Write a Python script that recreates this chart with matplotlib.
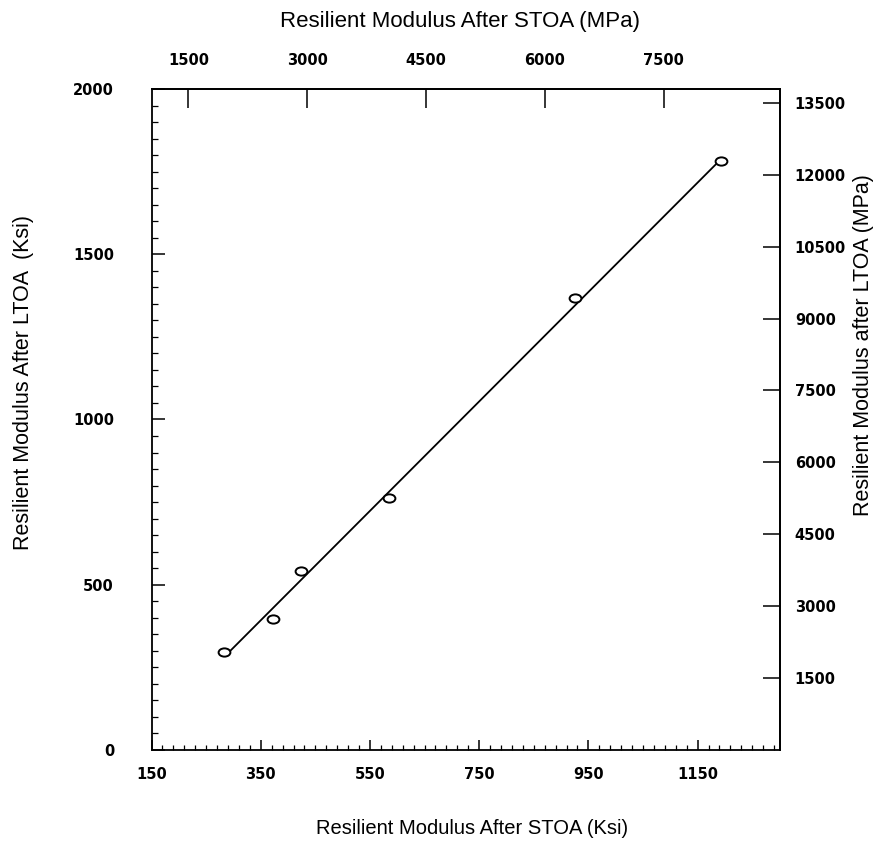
import matplotlib.pyplot as plt
import numpy as np
from matplotlib.path import Path
from matplotlib.transforms import Affine2D
from matplotlib.ticker import MultipleLocator, FixedLocator

KSI_TO_MPA = 6.895

# resilient modulus, ksi
stoa_ksi = [282, 373, 423, 585, 925, 1192]
ltoa_ksi = [297, 396, 542, 762, 1367, 1782]

# fitted line end points, ksi
fit_stoa = [290, 1187]
fit_ltoa = [293, 1778]

ksi_x_ticks = [150, 350, 550, 750, 950, 1150]
ksi_y_ticks = [0, 500, 1000, 1500, 2000]
mpa_x_ticks = [1500, 3000, 4500, 6000, 7500]
mpa_y_ticks = [1500, 3000, 4500, 6000, 7500, 9000, 10500, 12000, 13500]

plt.rcParams['font.family'] = 'DejaVu Sans'
plt.rcParams['font.weight'] = 'bold'

fig = plt.figure(figsize=(8.81, 8.42), dpi=100)
ax = fig.add_axes([0.172, 0.1093, 0.7128, 0.785])

ellipse = Path.unit_circle().transformed(Affine2D().scale(1.0, 0.7))

ax.plot(fit_stoa, fit_ltoa, color='black', lw=1.3)
ax.plot(stoa_ksi, ltoa_ksi, linestyle='none', marker=ellipse, ms=8.5,
        mfc='white', mec='black', mew=1.4)

ax.set_xlim(150, 1300)
ax.set_ylim(0, 2000)
for sp in ax.spines.values():
    sp.set_linewidth(1.3)

ax.xaxis.set_major_locator(FixedLocator(ksi_x_ticks))
ax.xaxis.set_minor_locator(FixedLocator(np.arange(150, 1301, 20)))
ax.yaxis.set_major_locator(FixedLocator(ksi_y_ticks))
ax.yaxis.set_minor_locator(MultipleLocator(50))

ax.tick_params(axis='x', which='major', direction='in', length=7, width=1.1, pad=12, labelsize=10.5)
ax.tick_params(axis='x', which='minor', direction='in', length=3.5, width=0.9)
ax.tick_params(axis='y', which='major', direction='in', length=9, width=1.1, pad=27, labelsize=10.5)
ax.tick_params(axis='y', which='minor', direction='in', length=4, width=0.9)

top = ax.secondary_xaxis('top', functions=(lambda k: k * KSI_TO_MPA, lambda m: m / KSI_TO_MPA))
top.set_xticks(mpa_x_ticks)
top.tick_params(direction='in', length=14, width=1.1, pad=15, labelsize=10.5)
top.spines['top'].set_linewidth(1.3)

right = ax.secondary_yaxis('right', functions=(lambda k: k * KSI_TO_MPA, lambda m: m / KSI_TO_MPA))
right.set_yticks(mpa_y_ticks)
right.tick_params(direction='in', length=12, width=1.1, pad=11, labelsize=10.5)
right.spines['right'].set_linewidth(1.3)

title_font = dict(family='Liberation Sans', fontweight='normal', ha='center', va='center')
fig.text(0.522, 0.975, 'Resilient Modulus After STOA (MPa)', fontsize=16, **title_font)
fig.text(0.536, 0.0166, 'Resilient Modulus After STOA (Ksi)', fontsize=14.5, **title_font)
fig.text(0.027, 0.546, 'Resilient Modulus After LTOA  (Ksi)', fontsize=15.5, rotation=90, **title_font)
fig.text(0.98, 0.59, 'Resilient Modulus after LTOA (MPa)', fontsize=15.5, rotation=90, **title_font)

fig.savefig('out.png', dpi=100)
